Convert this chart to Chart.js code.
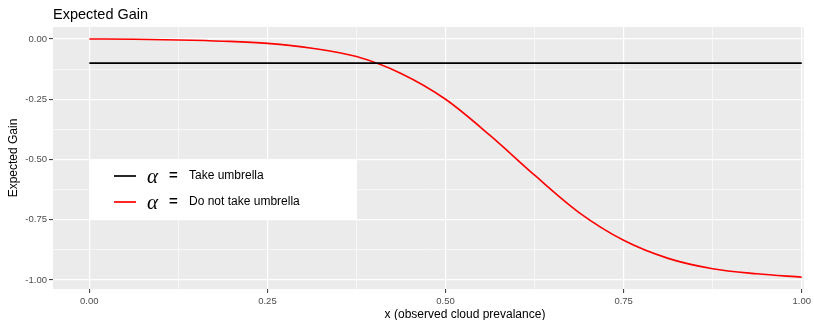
<!DOCTYPE html>
<html>
<head>
<meta charset="utf-8">
<script src="https://cdn.jsdelivr.net/npm/chart.js@4/dist/chart.umd.min.js"></script>
<style>
  html, body { margin: 0; padding: 0; background: #fff; overflow: hidden; }
  #wrap { width: 814px; height: 320px; }
</style>
</head>
<body>
<div id="wrap"><canvas id="gainChart" width="814" height="320"></canvas></div>
<script>
// x positions (observed cloud prevalance) and read-off values
const xValues = [0, 0.0625, 0.125, 0.1875, 0.25, 0.3125, 0.375, 0.4375, 0.5, 0.5625, 0.625, 0.6875, 0.75, 0.8125, 0.875, 0.9375, 1];
const doNotTake = [0, -0.001, -0.004, -0.009, -0.018, -0.038, -0.073, -0.143, -0.25, -0.4, -0.565, -0.72, -0.835, -0.91, -0.953, -0.974, -0.988];
const takeX = [0, 1];
const takeUmbrella = [-0.1, -0.1];

const xTicks = [0, 0.125, 0.25, 0.375, 0.5, 0.625, 0.75, 0.875, 1];
const yTicks = [0, -0.125, -0.25, -0.375, -0.5, -0.625, -0.75, -0.875, -1];
const seriesLabels = ['Take umbrella', 'Do not take umbrella'];

const isMajor = v => Math.abs(v / 0.25 - Math.round(v / 0.25)) < 1e-6;

const panelPlugin = {
    id: 'panel',
    beforeDraw(chart) {
        const { ctx, chartArea: a } = chart;
        ctx.save();
        ctx.fillStyle = '#EBEBEB';
        ctx.fillRect(a.left, a.top, a.right - a.left, a.bottom - a.top);
        ctx.restore();
    },
    afterDatasetsDraw(chart) {
        const { ctx } = chart;
        ctx.save();
        // legend box
        ctx.fillStyle = '#ffffff';
        ctx.fillRect(89, 160, 268, 60);
        const rows = [
            { y: 176, color: '#000000', text: seriesLabels[0] },
            { y: 202, color: '#FF0000', text: seriesLabels[1] }
        ];
        rows.forEach(r => {
            ctx.strokeStyle = r.color;
            ctx.lineWidth = 1.7;
            ctx.beginPath();
            ctx.moveTo(114, r.y);
            ctx.lineTo(136, r.y);
            ctx.stroke();
            ctx.fillStyle = '#000000';
            ctx.textBaseline = 'middle';
            ctx.textAlign = 'left';
            ctx.font = 'italic 21px "Liberation Serif"';
            ctx.fillText('\u03B1', 147, r.y + 1);
            ctx.font = 'bold 15px "Liberation Sans"';
            ctx.fillText('=', 169, r.y);
            ctx.font = '12px "Liberation Sans"';
            ctx.fillText(r.text, 189, r.y);
        });
        // title
        ctx.fillStyle = '#000000';
        ctx.font = '14.5px "Liberation Sans"';
        ctx.textAlign = 'left';
        ctx.textBaseline = 'alphabetic';
        ctx.fillText('Expected Gain', 53, 19);
        // axis titles
        ctx.font = '12px "Liberation Sans"';
        ctx.textAlign = 'center';
        ctx.fillText('x (observed cloud prevalance)', 465, 318);
        ctx.translate(17, 158);
        ctx.rotate(-Math.PI / 2);
        ctx.fillText('Expected Gain', 0, 0);
        ctx.restore();
    }
};

const gridOpts = {
    color: '#ffffff',
    lineWidth: c => (c.tick && isMajor(c.tick.value)) ? 1.2 : 0.6,
    drawTicks: true,
    tickLength: 4,
    tickWidth: 1,
    tickColor: c => (c.tick && isMajor(c.tick.value)) ? '#333333' : 'rgba(0,0,0,0)'
};

const ctxGain = document.getElementById('gainChart').getContext('2d');
const gainChart = new Chart(ctxGain, {
    type: 'line',
    data: {
        datasets: [
            {
                label: seriesLabels[0],
                data: takeX.map((x, i) => ({ x: x, y: takeUmbrella[i] })),
                borderColor: '#000000',
                borderWidth: 1.8,
                pointRadius: 0,
                fill: false
            },
            {
                label: seriesLabels[1],
                data: xValues.map((x, i) => ({ x: x, y: doNotTake[i] })),
                borderColor: '#FF0000',
                borderWidth: 1.6,
                pointRadius: 0,
                cubicInterpolationMode: 'monotone',
                fill: false
            }
        ]
    },
    options: {
        responsive: false,
        animation: false,
        layout: {
            autoPadding: false,
            padding: { top: 27, right: 8, left: 0, bottom: 0 }
        },
        plugins: {
            legend: { display: false },
            tooltip: { enabled: false },
            title: { display: false }
        },
        scales: {
            x: {
                type: 'linear',
                min: -0.051,
                max: 1.0028,
                afterBuildTicks: s => { s.ticks = xTicks.map(v => ({ value: v })); },
                afterFit: s => { s.height = 31; },
                grid: gridOpts,
                border: { display: false },
                ticks: {
                    autoSkip: false,
                    maxRotation: 0,
                    padding: 3,
                    color: '#4D4D4D',
                    font: { family: 'Liberation Sans', size: 9.5 },
                    callback: v => isMajor(v) ? v.toFixed(2) : ''
                }
            },
            y: {
                type: 'linear',
                min: -1.037,
                max: 0.0498,
                afterBuildTicks: s => { s.ticks = yTicks.map(v => ({ value: v })); },
                afterFit: s => { s.width = 53; },
                grid: gridOpts,
                border: { display: false },
                ticks: {
                    autoSkip: false,
                    padding: 2,
                    color: '#4D4D4D',
                    font: { family: 'Liberation Sans', size: 9.5 },
                    callback: v => isMajor(v) ? v.toFixed(2) : ''
                }
            }
        }
    },
    plugins: [panelPlugin]
});
</script>
</body>
</html>
